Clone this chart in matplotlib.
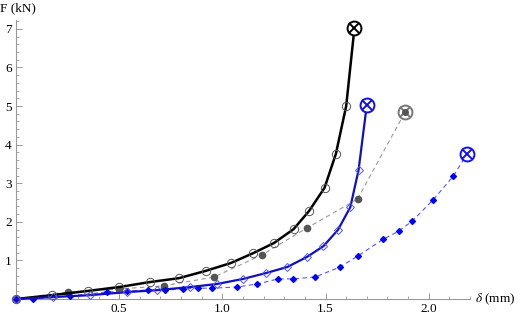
import numpy as np
import matplotlib.pyplot as plt
from matplotlib.ticker import MultipleLocator

plt.rcParams['font.family'] = ['Liberation Serif', 'DejaVu Serif']
plt.rcParams['mathtext.fontset'] = 'stix'

# black solid, open circles
d1 = [0, 0.175, 0.35, 0.50, 0.65, 0.79, 0.92, 1.04, 1.15, 1.25, 1.345, 1.42, 1.495, 1.55, 1.60, 1.64]
f1 = [0, 0.10, 0.21, 0.31, 0.44, 0.54, 0.73, 0.93, 1.19, 1.45, 1.81, 2.28, 2.88, 3.76, 5.00, 7.02]
# blue solid, open diamonds
d2 = [0, 0.18, 0.36, 0.54, 0.685, 0.845, 0.975, 1.10, 1.21, 1.315, 1.41, 1.49, 1.56, 1.62, 1.66, 1.70]
f2 = [0, 0.05, 0.10, 0.18, 0.23, 0.31, 0.39, 0.52, 0.67, 0.83, 1.09, 1.37, 1.79, 2.38, 3.34, 5.03]
# gray dashed, filled circles
d3 = [0, 0.25, 0.50, 0.715, 0.96, 1.19, 1.41, 1.655, 1.885]
f3 = [0, 0.18, 0.26, 0.34, 0.57, 1.14, 1.84, 2.59, 4.84]
# blue dashed, filled diamonds
d4 = [0, 0.08, 0.26, 0.44, 0.54, 0.64, 0.72, 0.81, 0.88, 0.95, 1.07, 1.17, 1.27, 1.34, 1.45,
      1.57, 1.655, 1.78, 1.855, 1.92, 2.02, 2.12, 2.185]
f4 = [0, 0.0, 0.08, 0.18, 0.21, 0.23, 0.23, 0.26, 0.28, 0.28, 0.31, 0.39, 0.52, 0.52, 0.57,
      0.83, 1.11, 1.55, 1.76, 2.02, 2.56, 3.19, 3.76]

fig = plt.figure(figsize=(5.18, 3.15), dpi=100)
ax = fig.add_axes([16/518, 16/315, 454/518, 279/315])

ax.plot(d3[:-1], f3[:-1], '--', color='#999999', lw=0.8, dashes=(4, 3), clip_on=False, zorder=2)
ax.plot(d3[-2:], f3[-2:], '--', color='#999999', lw=0.8, dashes=(4, 3), zorder=2)
ax.plot(d3[:-1], f3[:-1], 'o', ms=4.5, color='#555555', clip_on=False, zorder=3)

ax.plot(d4, f4, '--', color='#5555ff', lw=0.8, dashes=(4, 3), clip_on=False, zorder=2)
ax.plot(d4[:-1], f4[:-1], 'D', ms=3, color='#0000ff', clip_on=False, zorder=3)

ax.plot(d1, f1, '-', color='black', lw=1.8, clip_on=False, zorder=4)
ax.plot(d1[:-1], f1[:-1], 'o', ms=6, mfc='none', mec='#555555', mew=0.7, clip_on=False, zorder=5)

ax.plot(d2, f2, '-', color='#1010c0', lw=1.6, clip_on=False, zorder=4)
ax.plot(d2[:-1], f2[:-1], 'D', ms=4, mfc='none', mec='#5555ee', mew=0.7, clip_on=False, zorder=5)

# end points: circled x
ends = [(d1[-1], f1[-1], 'black'), (d2[-1], f2[-1], '#1010e0'),
        (d3[-1], f3[-1], '#777777'), (d4[-1], f4[-1], '#1010ff')]
for x, y, c in ends:
    ax.plot(x, y, 'o', ms=10, mfc='white', mec=c, mew=1.4, clip_on=False, zorder=6)
    ax.plot(x, y, 'x', ms=6.5, color=c, mew=1.4, clip_on=False, zorder=7)
ax.plot(d3[-1], f3[-1], 'o', ms=4, color='#555555', zorder=8)

ax.set_xlim(0, 2.2)
ax.set_ylim(0, 7.23)
for s in ['top', 'right']:
    ax.spines[s].set_visible(False)
for s in ['left', 'bottom']:
    ax.spines[s].set_color('#999999')
    ax.spines[s].set_linewidth(0.8)

ax.xaxis.set_major_locator(MultipleLocator(0.5))
ax.xaxis.set_minor_locator(MultipleLocator(0.1))
ax.yaxis.set_major_locator(MultipleLocator(1))
ax.yaxis.set_minor_locator(MultipleLocator(0.2))
ax.set_xticks([0.5, 1.0, 1.5, 2.0])
ax.set_xticklabels(['0.5', '1.0', '1.5', '2.0'])
ax.set_yticks([1, 2, 3, 4, 5, 6, 7])
ax.set_yticklabels(['1', '2', '3', '4', '5', '6', '7'])
ax.tick_params(which='major', direction='in', length=4, width=0.7, color='#999999', labelsize=9.5, pad=3)
ax.tick_params(which='minor', direction='in', length=2.5, width=0.6, color='#999999')
ax.tick_params(axis='y', pad=3)

ax.text(1.012, 0.0, r'$\delta$ (mm)', transform=ax.transAxes, ha='left', va='center', fontsize=9.5)
fig.text(0.0, 0.975, 'F (kN)', ha='left', va='center', fontsize=9.5)

fig.savefig('out.png', dpi=100)
